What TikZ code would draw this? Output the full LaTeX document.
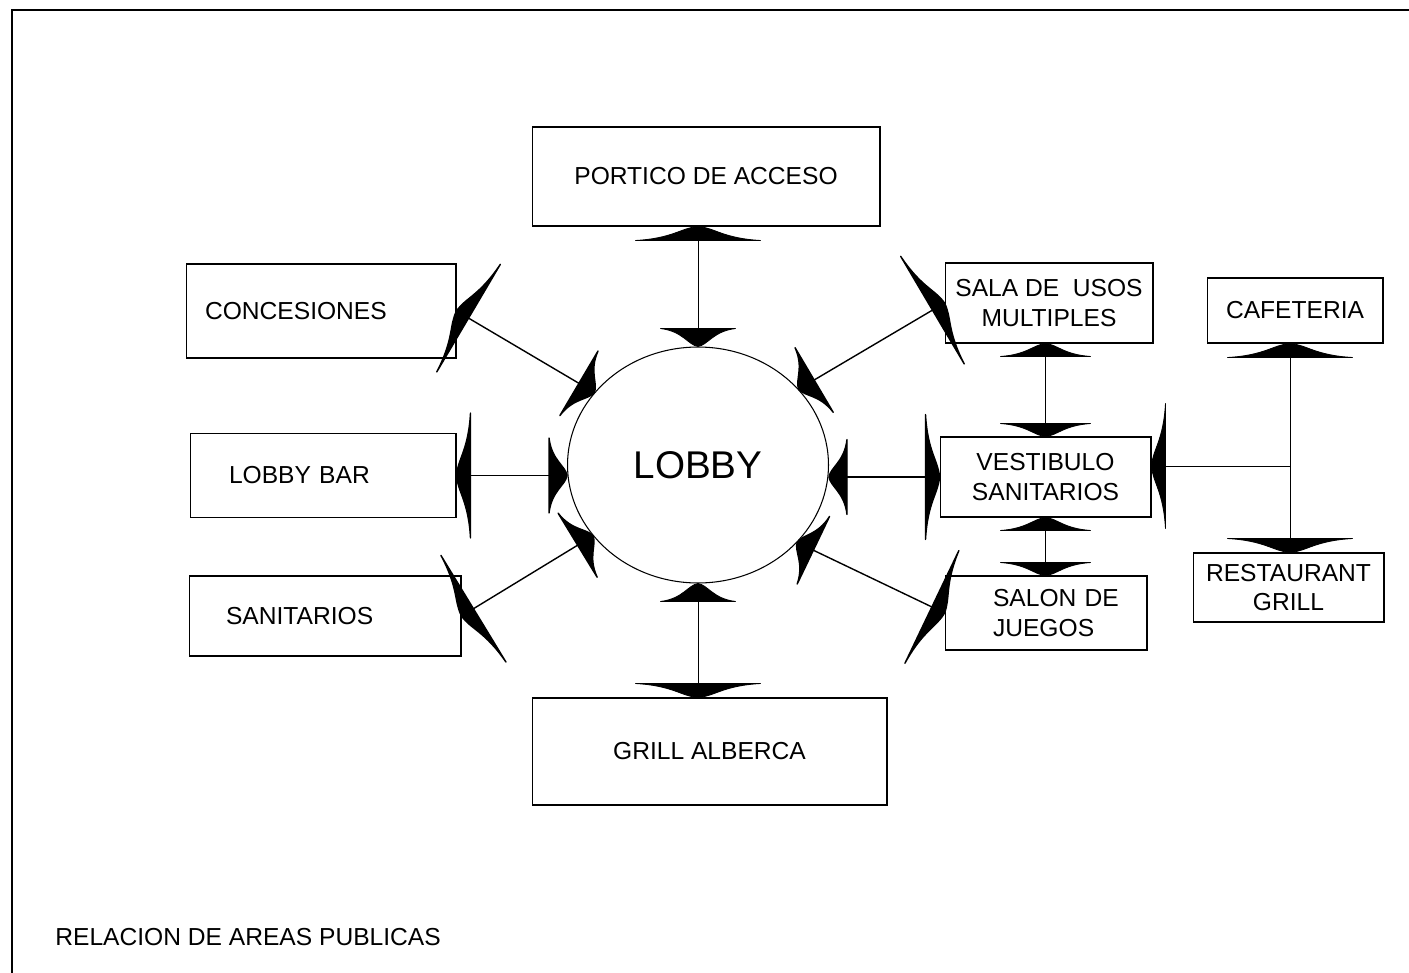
\documentclass[tikz,border=0pt]{standalone}
\usepackage{fontspec}
\setmainfont{Liberation Sans}
\usetikzlibrary{positioning,arrows.meta,shapes.geometric}

% flat winged arrow tip: straight back, bell-shaped front
\pgfdeclarearrow{
  name=Wing,
  defaults={length=3mm, width=25mm},
  parameters={\the\pgfarrowlength,\the\pgfarrowwidth},
  setup code={
    \pgfarrowssettipend{0pt}
    \pgfarrowssetlineend{-.4\pgfarrowlength}
    \pgfarrowssetbackend{-\pgfarrowlength}
    \pgfarrowssavethe\pgfarrowlength
    \pgfarrowssavethe\pgfarrowwidth
  },
  drawing code={
    \pgfpathmoveto{\pgfpointorigin}
    \pgfpathcurveto{\pgfpoint{-.08\pgfarrowlength}{.13\pgfarrowwidth}}{\pgfpoint{-.85\pgfarrowlength}{.2\pgfarrowwidth}}{\pgfpoint{-\pgfarrowlength}{.5\pgfarrowwidth}}
    \pgfpathlineto{\pgfpoint{-\pgfarrowlength}{-.5\pgfarrowwidth}}
    \pgfpathcurveto{\pgfpoint{-.85\pgfarrowlength}{-.2\pgfarrowwidth}}{\pgfpoint{-.08\pgfarrowlength}{-.13\pgfarrowwidth}}{\pgfpointorigin}
    \pgfpathclose
    \pgfsetroundjoin
    \pgfusepathqfillstroke
  }
}

\tikzset{
  box/.style={draw, line width=0.6pt, font=\fontsize{14}{17}\selectfont, align=center, inner sep=0pt},
  link/.style={line width=0.8pt},
  vlink/.style={line width=0.5pt},
  Wbig/.tip={Wing[length=2.8mm,width=25mm]},
  Wmid/.tip={Wing[length=2.6mm,width=18mm]},
  Wsm/.tip={Wing[length=3.6mm,width=15mm]},
}

\begin{document}
\begin{tikzpicture}[x=0.02cm, y=-0.02cm]
\useasboundingbox (0,0) rectangle (1409,973);
% frame
\draw[line width=0.9pt] (1409,10) -- (12,10) -- (12,973);
% centre
\node[ellipse, draw, line width=0.6pt, minimum width=5.22cm, minimum height=4.72cm, inner sep=0pt, font=\fontsize{22}{26}\selectfont] (lobby) at (698,465) {LOBBY};
% boxes round the lobby
\node[box, minimum width=6.96cm, minimum height=1.98cm] (portico) at (706,176.5) {PORTICO DE ACCESO};
\node[box, align=left, inner xsep=0.38cm, text width=4.64cm, minimum height=1.88cm] (conc) at (321,311) {CONCESIONES};
\node[box, align=left, inner xsep=0.78cm, text width=3.76cm, minimum height=1.68cm] (lbar) at (323,475.5) {LOBBY BAR};
\node[box, align=left, inner xsep=0.74cm, text width=3.96cm, minimum height=1.6cm] (san) at (325,616) {SANITARIOS};
\node[box, minimum width=7.1cm, minimum height=2.14cm] (grill) at (709.5,751.5) {GRILL ALBERCA};
\node[box, minimum width=4.16cm, minimum height=1.6cm] (sala) at (1049,303) {SALA DE\ \ USOS\\MULTIPLES};
\node[box, minimum width=4.22cm, minimum height=1.6cm] (vest) at (1045.5,477) {VESTIBULO\\SANITARIOS};
\node[box, align=left, inner xsep=0.96cm, text width=2.12cm, minimum height=1.48cm] (salon) at (1046,613) {SALON~DE\\JUEGOS};
% right column
\node[box, minimum width=3.52cm, minimum height=1.3cm] (caf) at (1295,310.5) {CAFETERIA};
\node[box, minimum width=3.82cm, minimum height=1.38cm] (rest) at (1288.5,587.5) {RESTAURANT\\GRILL};
\node[font=\fontsize{14}{17}\selectfont, anchor=west, inner sep=0pt] (title) at (55,937) {RELACION DE AREAS PUBLICAS};
% links to the lobby
\draw[vlink, Wbig-Wsm] (portico.south -| lobby.north) -- (lobby.north);
\draw[link, Wbig-Wsm] (conc.east) -- (lobby.145);
\draw[link, Wbig-Wsm] (lbar.east) -- (lbar.east -| lobby.west);
\draw[link, Wbig-Wsm] (san.east) -- (lobby.214);
\draw[vlink, Wsm-Wbig] (lobby.south) -- (lobby.south |- grill.north);
\draw[link, Wsm-Wbig] (lobby.37) -- (sala.west);
\draw[link, Wsm-Wbig] (vest.west -| lobby.east) -- (vest.west);
\draw[link, Wsm-Wbig] (lobby.-38) -- (salon.west);
% links on the right
\draw[vlink, Wmid-Wmid] (sala.south -| vest.north) -- (vest.north);
\draw[vlink, Wmid-Wmid] (vest.south) -- (vest.south |- salon.north);
\coordinate (jn) at (1290,466);
\draw[vlink, Wbig-Wbig] (caf.south -| jn) -- (rest.north -| jn);
\draw[vlink, Wbig-] (vest.east |- jn) -- (jn);
\end{tikzpicture}
\end{document}
